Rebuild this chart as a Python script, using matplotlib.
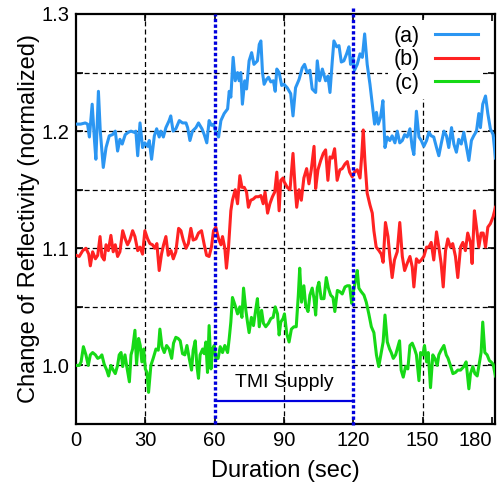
import numpy as np
import matplotlib.pyplot as plt

plt.rcParams["font.family"] = ["Liberation Sans", "DejaVu Sans"]

time_a = [0, 2, 4, 5, 5.8, 7, 8, 8.6, 9.7, 10.5, 11.8, 13, 14.4, 15.8, 17, 18, 19, 20,
          21.3, 22.6, 23.8, 25.2, 25.9, 26.7, 27.7, 28.8, 29.8, 31, 31.7, 32.7, 33.9,
          34.9, 36, 36.7, 37.8, 38.9, 40.3, 41, 42, 43.2, 44.7, 46.1, 47.6, 48.3, 49.3,
          50.4, 51.9, 53, 54.5, 55.5, 56.6, 57.6, 58.6, 59.5, 60.5, 61.7, 62.7, 64.1,
          65.6, 66.3, 67, 68, 68.9, 69.9, 70.6, 71.3, 72, 73, 73.8, 74.9, 76, 77, 78.5,
          79.3, 80, 80.7, 81.4, 82.4, 83.3, 84.3, 85.4, 86.2, 86.9, 87.9, 89, 90, 91.4,
          92.9, 93.9, 95, 96.5, 97.9, 98.9, 100, 101.2, 102.2, 103.7, 104.4, 105.4,
          106.6, 108, 109, 109.9, 110.9, 111.6, 112.8, 113.8, 114.8, 115.9, 117.1,
          118.1, 118.8, 119.8, 120.5, 121.7, 122.9, 123.9, 124.9, 126, 127.2, 128.2,
          129.2, 130, 130.8, 131.8, 132.8, 133.7, 134.7, 135.8, 136.8, 138, 139, 140.1,
          141.2, 142.2, 143.3, 144.5, 145.5, 146.2, 147.3, 148.4, 149.4, 150.5, 151.7,
          152.7, 153.7, 154.8, 156, 157, 158, 159.2, 160.3, 161.3, 162.5, 163.5, 164.6,
          165.6, 166.7, 167.8, 169, 170, 171.1, 172.1, 173.3, 174.3, 175, 176, 177.2,
          178.2, 179.3, 180.5, 181.5]
refl_a = [1.206, 1.206, 1.207, 1.206, 1.195, 1.223, 1.192, 1.176, 1.234, 1.200, 1.169,
          1.186, 1.196, 1.197, 1.200, 1.183, 1.193, 1.189, 1.197, 1.199, 1.200, 1.199,
          1.200, 1.179, 1.207, 1.186, 1.190, 1.187, 1.192, 1.176, 1.196, 1.202, 1.195,
          1.200, 1.195, 1.203, 1.209, 1.213, 1.200, 1.202, 1.209, 1.207, 1.207, 1.203,
          1.192, 1.200, 1.203, 1.207, 1.202, 1.197, 1.190, 1.209, 1.205, 1.206, 1.199,
          1.195, 1.209, 1.215, 1.219, 1.234, 1.229, 1.263, 1.243, 1.250, 1.243, 1.250,
          1.223, 1.243, 1.236, 1.260, 1.267, 1.257, 1.260, 1.274, 1.277, 1.250, 1.240,
          1.244, 1.246, 1.242, 1.243, 1.234, 1.253, 1.250, 1.239, 1.240, 1.237, 1.232,
          1.213, 1.237, 1.244, 1.254, 1.257, 1.250, 1.252, 1.236, 1.233, 1.260, 1.243,
          1.253, 1.243, 1.247, 1.233, 1.260, 1.277, 1.272, 1.273, 1.259, 1.260, 1.266,
          1.272, 1.257, 1.263, 1.252, 1.257, 1.266, 1.263, 1.283, 1.257, 1.240, 1.223,
          1.206, 1.216, 1.206, 1.212, 1.226, 1.186, 1.195, 1.192, 1.196, 1.190, 1.200,
          1.190, 1.192, 1.197, 1.195, 1.202, 1.186, 1.180, 1.217, 1.195, 1.192, 1.187,
          1.192, 1.199, 1.196, 1.195, 1.186, 1.179, 1.189, 1.200, 1.196, 1.186, 1.203,
          1.189, 1.182, 1.193, 1.189, 1.199, 1.186, 1.175, 1.192, 1.196, 1.200, 1.215,
          1.203, 1.223, 1.230, 1.215, 1.202, 1.197, 1.177]

time_b = [0, 1.4, 2.9, 4.3, 5.5, 6.2, 7.2, 8.4, 9.4, 10.4, 11.2, 12.2, 13, 14, 15.1, 16.1,
          17, 18, 19, 20.2, 21.3, 22.3, 23.3, 24.5, 25.5, 26.7, 27.7, 28.8, 29.8, 31, 32,
          33.1, 34.1, 35, 36, 37, 37.9, 38.9, 39.9, 41.1, 42.1, 43.2, 44.4, 45.4, 46.4,
          47.6, 48.6, 49.7, 50.7, 51.9, 53, 54.3, 55.5, 56.5, 57.6, 58.6, 59.5, 60.5,
          61.7, 62.7, 63.4, 64.4, 65.1, 66, 67, 67.7, 68.9, 69.9, 70.9, 71.8, 72.8, 73.8,
          74.6, 75.6, 76.7, 77.8, 79, 80, 81, 81.8, 82.9, 83.9, 85, 86, 86.9, 87.9, 88.6,
          89.6, 90, 91.4, 92.6, 93.9, 94.8, 95.5, 96.5, 97.5, 98.6, 99.8, 100.8, 101.8,
          103, 103.7, 104.7, 105.9, 107, 108, 109, 109.9, 110.9, 111.9, 113, 114.2,
          115.2, 116.4, 117.4, 118.4, 119.5, 120.5, 121.7, 122.9, 123.6, 124.3, 125, 126,
          127.2, 128.2, 128.9, 129.9, 131.1, 132.1, 132.9, 133.9, 135, 135.8, 136.8,
          137.8, 139, 140.1, 141.2, 142.2, 143.3, 144.5, 145.5, 146.2, 147.3, 148.4,
          149.4, 150.5, 151.7, 152.7, 153.7, 154.8, 156, 157, 158, 158.9, 159.9, 160.9,
          162, 163, 164.2, 165.2, 166.4, 167.4, 168.5, 169.5, 170.7, 171.4, 172.4, 173.3,
          174.3, 175.3, 176.2, 177.2, 178.2, 179.3, 180.5, 181.5]
refl_b = [1.094, 1.093, 1.098, 1.100, 1.095, 1.085, 1.097, 1.091, 1.094, 1.110, 1.093,
          1.090, 1.103, 1.098, 1.111, 1.097, 1.103, 1.093, 1.097, 1.115, 1.108, 1.103,
          1.107, 1.115, 1.110, 1.098, 1.101, 1.095, 1.115, 1.108, 1.104, 1.103, 1.100,
          1.104, 1.081, 1.095, 1.103, 1.110, 1.094, 1.098, 1.091, 1.097, 1.117, 1.115,
          1.107, 1.100, 1.104, 1.117, 1.107, 1.108, 1.113, 1.115, 1.103, 1.094, 1.093,
          1.101, 1.115, 1.118, 1.108, 1.103, 1.110, 1.100, 1.083, 1.101, 1.132, 1.141,
          1.150, 1.138, 1.162, 1.152, 1.152, 1.148, 1.135, 1.141, 1.142, 1.144, 1.144,
          1.145, 1.138, 1.148, 1.130, 1.138, 1.144, 1.148, 1.165, 1.132, 1.158, 1.160,
          1.157, 1.152, 1.150, 1.181, 1.152, 1.135, 1.150, 1.141, 1.160, 1.168, 1.155,
          1.167, 1.187, 1.151, 1.167, 1.175, 1.181, 1.184, 1.158, 1.178, 1.177, 1.185,
          1.158, 1.167, 1.168, 1.172, 1.174, 1.165, 1.161, 1.165, 1.167, 1.160, 1.178,
          1.201, 1.175, 1.147, 1.137, 1.130, 1.115, 1.101, 1.098, 1.095, 1.088, 1.122,
          1.110, 1.093, 1.075, 1.090, 1.097, 1.122, 1.093, 1.081, 1.087, 1.093, 1.084,
          1.067, 1.091, 1.088, 1.090, 1.093, 1.101, 1.101, 1.105, 1.090, 1.114, 1.101,
          1.087, 1.067, 1.098, 1.108, 1.101, 1.104, 1.093, 1.075, 1.101, 1.105, 1.098,
          1.113, 1.105, 1.087, 1.132, 1.118, 1.101, 1.113, 1.113, 1.101, 1.118, 1.121,
          1.127, 1.135]

time_c = [0, 1.4, 2.2, 3.2, 4.3, 5.3, 6.2, 7.2, 8.4, 9.4, 10.4, 11.2, 12.2, 13.3, 14.1,
          15.1, 16.1, 17, 18, 18.7, 19.5, 20.2, 21.2, 21.9, 23.1, 23.8, 24.5, 25.5, 26.2,
          27.1, 27.8, 28.5, 29.3, 30, 30.7, 31.4, 32.4, 33.4, 34.6, 35.6, 36.3, 37.2,
          38.2, 39.2, 40.3, 41.4, 42.2, 43.2, 44.2, 45.1, 46.1, 47.1, 48, 49, 50, 50.7,
          51.6, 52.3, 53, 53.7, 54.8, 55.5, 56.2, 56.9, 57.6, 58.4, 59.1, 59.8, 60.5,
          61.5, 62.4, 63.4, 64.4, 65.6, 66.3, 67, 67.7, 68.9, 69.9, 70.9, 71.8, 72.5,
          73.5, 74.2, 74.9, 75.9, 76.8, 77.8, 78.5, 79.3, 80.3, 81.1, 82.1, 83.3, 84.3,
          85.3, 86.2, 87.2, 87.9, 88.6, 89.6, 90.2, 91.2, 92.2, 93.2, 94.3, 95.3, 96.2,
          96.8, 97.6, 98.6, 99.4, 100.4, 101.2, 102.2, 103, 103.7, 104.4, 105.1, 106.1,
          107.3, 108.3, 109.2, 110.2, 111.2, 112, 113.1, 114.1, 115.2, 116.4, 117.4,
          118.4, 119.3, 120, 121, 121.7, 122.4, 123.4, 124.6, 125.6, 126.7, 127.8, 128.9,
          130, 131, 132.1, 132.9, 133.7, 134.7, 135.7, 136.4, 137.3, 138.3, 139, 140,
          140.7, 141.6, 142.6, 143.6, 144.5, 145.5, 146.5, 147.3, 148.4, 149.1, 150.1,
          150.8, 151.7, 152.4, 153.4, 154.4, 155.3, 156.3, 157, 158, 159.2, 160.2, 161,
          162, 163.1, 164.2, 165.2, 166.4, 167.8, 168.8, 170, 170.7, 171.7, 172.6, 173.6,
          174.6, 175.3, 176, 176.9, 177.9, 178.9, 179.6, 180.5, 181.5]
refl_c = [1.000, 1.000, 1.003, 1.016, 1.009, 1.000, 1.009, 1.011, 1.009, 1.006, 1.007,
          1.009, 1.001, 0.996, 0.991, 1.000, 0.996, 0.993, 1.000, 1.009, 1.011, 0.999,
          1.009, 1.000, 0.986, 1.009, 1.014, 1.030, 1.001, 1.023, 1.017, 1.003, 1.014,
          0.997, 0.994, 0.977, 1.000, 1.006, 1.014, 1.013, 1.031, 1.016, 1.011, 1.017,
          1.014, 1.006, 1.019, 1.024, 1.023, 1.021, 1.010, 1.009, 1.017, 1.006, 0.996,
          1.013, 1.021, 1.000, 0.989, 1.009, 1.014, 1.010, 1.020, 0.994, 1.034, 0.997,
          1.014, 1.017, 1.006, 1.006, 1.016, 1.011, 1.017, 1.011, 1.023, 1.037, 1.058,
          1.051, 1.044, 1.050, 1.041, 1.066, 1.047, 1.037, 1.028, 1.041, 1.034, 1.048,
          1.057, 1.033, 1.047, 1.036, 1.033, 1.036, 1.040, 1.041, 1.050, 1.044, 1.026,
          1.037, 1.040, 1.044, 1.027, 1.020, 1.031, 1.033, 1.033, 1.060, 1.083, 1.054,
          1.068, 1.051, 1.046, 1.060, 1.066, 1.057, 1.043, 1.066, 1.071, 1.057, 1.057,
          1.075, 1.066, 1.060, 1.058, 1.046, 1.064, 1.063, 1.061, 1.067, 1.068, 1.068,
          1.053, 1.063, 1.073, 1.081, 1.066, 1.063, 1.060, 1.054, 1.044, 1.033, 1.028,
          1.009, 0.999, 1.011, 1.020, 1.043, 1.020, 1.014, 1.011, 1.006, 1.009, 1.014,
          1.021, 0.996, 0.990, 0.999, 0.997, 1.017, 1.019, 1.014, 1.009, 0.987, 1.011,
          1.009, 1.017, 1.003, 1.011, 0.981, 1.009, 1.006, 1.000, 1.009, 1.013, 1.017,
          1.009, 1.006, 1.000, 0.993, 0.994, 0.996, 0.996, 0.999, 1.003, 0.980, 0.993,
          0.999, 0.993, 0.991, 1.003, 1.011, 1.037, 1.011, 1.009, 1.004, 1.003, 1.001,
          0.991]

series_labels = ["(a)", "(b)", "(c)"]
series_colors = ["#2b96f2", "#ff2222", "#16d916"]

supply_start, supply_end = 60, 120
supply_level = 0.97
x_ticks = [0, 30, 60, 90, 120, 150, 180]
y_ticks = [0.95, 1.0, 1.05, 1.1, 1.15, 1.2, 1.25, 1.3]
y_tick_labels = ["", "1.0", "", "1.1", "", "1.2", "", "1.3"]

fig = plt.figure(figsize=(5.01, 4.86), dpi=100)
ax = fig.add_axes([0.1517, 0.1276, 0.8363, 0.8436])

# grid
for y in y_ticks[1:-1]:
    ax.axhline(y, color="black", lw=0.9, ls=(0, (4, 2.5)), zorder=1)
for x in [30, 90, 150]:
    ax.axvline(x, color="black", lw=0.9, ls=(0, (4, 2.5)), zorder=1)

for t, r, lab, col in zip([time_a, time_b, time_c], [refl_a, refl_b, refl_c],
                          series_labels, series_colors):
    ax.plot(t, r, color=col, lw=2.2, label=lab, zorder=3)

# supply window markers
ax.plot([supply_start, supply_start], [0.95, 1.3], color="#0000dd", lw=2.4,
        ls=(0, (1, 0.7)), zorder=4, clip_on=False)
ax.plot([supply_end, supply_end], [0.949, 1.307], color="#0000dd", lw=2.4,
        ls=(0, (1, 0.7)), zorder=4, clip_on=False)
ax.plot([supply_start, supply_end], [supply_level, supply_level], color="#0000dd",
        lw=1.6, zorder=4)
ax.text((supply_start + supply_end) / 2, 0.985, "TMI Supply", ha="center",
        va="center", fontsize=14)

ax.set_xlim(0, 181.3)
ax.set_ylim(0.95, 1.3)
ax.set_xticks(x_ticks)
ax.set_xticklabels([str(v) for v in x_ticks])
ax.set_yticks(y_ticks)
ax.set_yticklabels(y_tick_labels)
ax.get_xticklabels()[-1].set_horizontalalignment("right")
ax.tick_params(direction="in", length=5, width=1.2, top=True, right=True,
               labelsize=14.5, pad=5)
for sp in ax.spines.values():
    sp.set_linewidth(1.6)

ax.set_xlabel("Duration (sec)", fontsize=17, labelpad=7)
ax.set_ylabel("Change of Reflectivity (normalized)", fontsize=17, labelpad=1)

leg = ax.legend(loc="upper right", bbox_to_anchor=(0.972, 0.985), borderaxespad=0,
                markerfirst=False, fontsize=15.5, handlelength=2.0, labelspacing=0.12,
                handletextpad=0.7, frameon=True, fancybox=False, borderpad=0.25)
leg.get_frame().set_edgecolor("none")
leg.get_frame().set_facecolor("white")
leg.get_frame().set_alpha(1)
leg.set_zorder(5)

fig.savefig("out.png", dpi=100)
